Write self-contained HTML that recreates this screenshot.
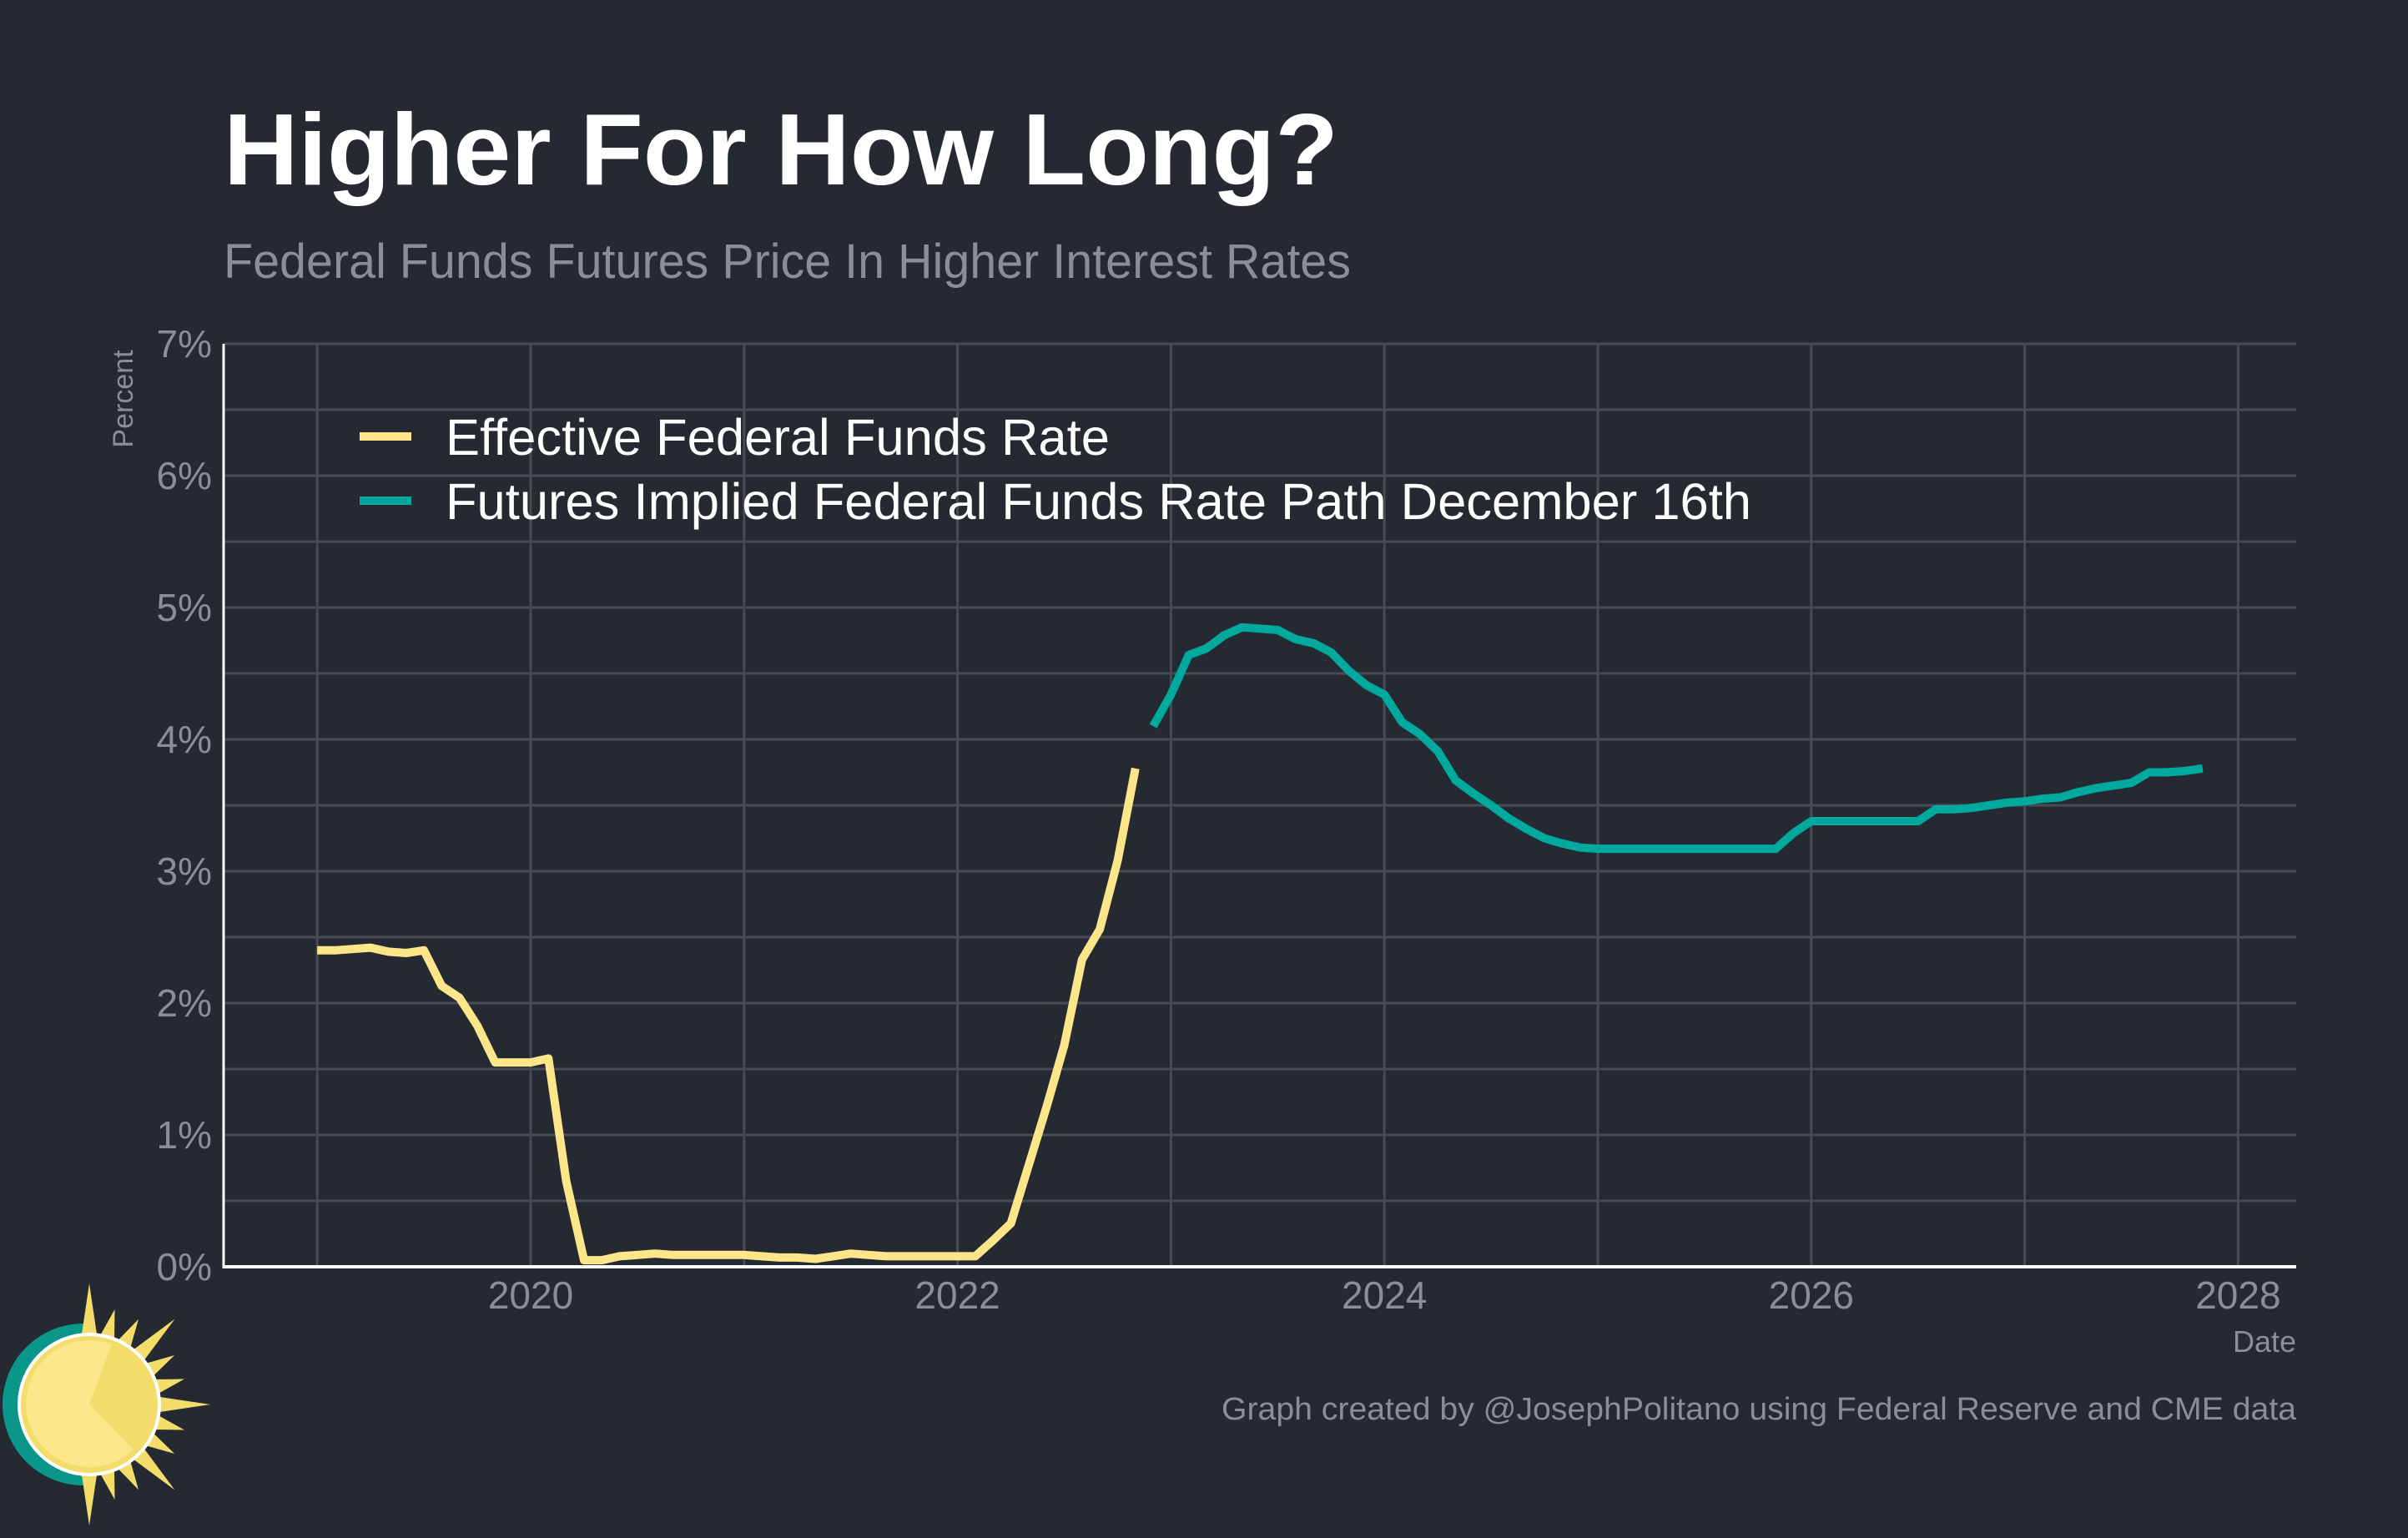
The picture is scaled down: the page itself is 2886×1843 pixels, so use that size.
<!DOCTYPE html>
<html><head><meta charset="utf-8"><style>
html,body{margin:0;padding:0;background:#242932;}
svg{display:block;font-family:"Liberation Sans",sans-serif;}
</style></head><body>
<svg id="chart" width="2886" height="1843" viewBox="0 0 2886 1843" xmlns="http://www.w3.org/2000/svg">
<rect x="0" y="0" width="2886" height="1843" fill="#242932"/>
<text x="268" y="221" font-size="122" font-weight="bold" fill="#ffffff" textLength="1336" lengthAdjust="spacingAndGlyphs">Higher For How Long?</text>
<text x="268" y="333" font-size="58" fill="#8b8e94" textLength="1351" lengthAdjust="spacingAndGlyphs">Federal Funds Futures Price In Higher Interest Rates</text>
<g id="grid"></g>
<g id="series"></g>
<g id="axes"></g>
<text transform="translate(159,478) rotate(-90)" text-anchor="middle" font-size="34" fill="#8b8e94">Percent</text>
<text x="2752" y="1620" text-anchor="end" font-size="36" fill="#8b8e94">Date</text>
<text x="2752" y="1701" text-anchor="end" font-size="38" fill="#8b8e94" textLength="1288" lengthAdjust="spacingAndGlyphs">Graph created by @JosephPolitano using Federal Reserve and CME data</text>
<g>
<line x1="431" y1="523" x2="493" y2="523" stroke="#fde68a" stroke-width="10"/>
<text x="534" y="545" font-size="61" fill="#ffffff" textLength="796" lengthAdjust="spacingAndGlyphs">Effective Federal Funds Rate</text>
<line x1="431" y1="600" x2="493" y2="600" stroke="#00a99d" stroke-width="10"/>
<text x="534" y="622" font-size="61" fill="#ffffff" textLength="1565" lengthAdjust="spacingAndGlyphs">Futures Implied Federal Funds Rate Path December 16th</text>
</g>
<g id="logo">
<path d="M100,1586 A97,97 0 0 0 100,1780 Z" fill="#0a978a"/>
<g id="rays"></g>
<circle cx="107" cy="1683" r="86" fill="#ffffff"/>
<circle cx="107" cy="1683" r="82" fill="#f4dc6a"/>
<path d="M107,1683 L134,1611 A76,76 0 1 0 160,1737 Z" fill="#fde78c"/>
</g>
</svg>
<script>
const effrDates = [];
for (let i = 0; i < 47; i++) effrDates.push(2019 + i / 12);
const effrValues = [2.40,2.40,2.41,2.42,2.39,2.38,2.40,2.13,2.04,1.83,1.55,1.55,
1.55,1.58,0.65,0.05,0.05,0.08,0.09,0.10,0.09,0.09,0.09,0.09,
0.09,0.08,0.07,0.07,0.06,0.08,0.10,0.09,0.08,0.08,0.08,0.08,
0.08,0.08,0.20,0.33,0.77,1.21,1.68,2.33,2.56,3.08,3.78];
const futDates = [];
for (let i = 0; i < 60; i++) futDates.push(2022 + 11 / 12 + i / 12);
const futValues = [4.10,
4.34,4.64,4.69,4.79,4.85,4.84,4.83,4.76,4.73,4.66,4.52,4.41,
4.34,4.13,4.04,3.91,3.69,3.59,3.50,3.40,3.32,3.25,3.21,3.18,
3.17,3.17,3.17,3.17,3.17,3.17,3.17,3.17,3.17,3.17,3.17,3.29,
3.38,3.38,3.38,3.38,3.38,3.38,3.38,3.47,3.47,3.48,3.50,3.52,
3.53,3.55,3.56,3.60,3.63,3.65,3.67,3.75,3.75,3.76,3.78];
const yTicks = [0,1,2,3,4,5,6,7];
const yTickLabels = ["0%","1%","2%","3%","4%","5%","6%","7%"];
const xTicks = [2020,2022,2024,2026,2028];
const xTickLabels = ["2020","2022","2024","2026","2028"];

const NS = "http://www.w3.org/2000/svg";
const L = 268, R = 2752, B = 1518, T = 412;
const xs = t => 636 + (t - 2020) * 255.8;
const ys = v => B - v * (B - T) / 7;
function mk(tag, attrs, parent) {
  const e = document.createElementNS(NS, tag);
  for (const k in attrs) e.setAttribute(k, attrs[k]);
  parent.appendChild(e);
  return e;
}
const grid = document.getElementById('grid');
for (let v = 0.5; v <= 7; v += 0.5) {
  const ln = mk('line', {x1: L, x2: R, y1: ys(v), y2: ys(v), stroke: '#474b54', 'stroke-width': 3}, grid);
  
  
}
for (let yr = 2019; yr <= 2028; yr++) {
  const ln = mk('line', {x1: xs(yr), x2: xs(yr), y1: T, y2: B, stroke: '#474b54', 'stroke-width': 3}, grid);
  
  
}
const axes = document.getElementById('axes');
const xa = mk('line', {x1: L, x2: R, y1: B, y2: B, stroke: '#ffffff', 'stroke-width': 4}, axes);


const ya = mk('line', {x1: L, x2: L, y1: T, y2: B + 2, stroke: '#ffffff', 'stroke-width': 3}, axes);


yTicks.forEach((v, i) => {
  const t = mk('text', {x: 254, y: ys(v) + 16, 'text-anchor': 'end', 'font-size': 46, fill: '#8b8e94'}, axes);
  t.textContent = yTickLabels[i];
  
  
});
xTicks.forEach((yr, i) => {
  const t = mk('text', {x: xs(yr), y: 1568, 'text-anchor': 'middle', 'font-size': 46, fill: '#8b8e94'}, axes);
  t.textContent = xTickLabels[i];
  
  
});
const series = document.getElementById('series');
function line(dates, vals, color, name) {
  const pts = dates.map((d, i) => xs(d).toFixed(1) + ',' + ys(vals[i]).toFixed(1)).join(' ');
  const p = mk('polyline', {points: pts, fill: 'none', stroke: color, 'stroke-width': 10, 'stroke-linejoin': 'round'}, series);
  
  
}
line(effrDates, effrValues, '#fde68a', 'effr-line');
line(futDates, futValues, '#00a99d', 'futures-line');

const rays = document.getElementById('rays');
const cx = 107, cy = 1683;
for (let a = -90; a <= 90; a += 15) {
  const len = (a % 45 === 0) ? 145 : 118;
  const r = a * Math.PI / 180, w = 7 * Math.PI / 180;
  const tip = [cx + len * Math.cos(r), cy + len * Math.sin(r)];
  const b1 = [cx + 80 * Math.cos(r - w), cy + 80 * Math.sin(r - w)];
  const b2 = [cx + 80 * Math.cos(r + w), cy + 80 * Math.sin(r + w)];
  const p = mk('polygon', {points: [b1, tip, b2].map(q => q.join(',')).join(' '), fill: '#f4dc6a'}, rays);
  
  
}
</script>
</body></html>
